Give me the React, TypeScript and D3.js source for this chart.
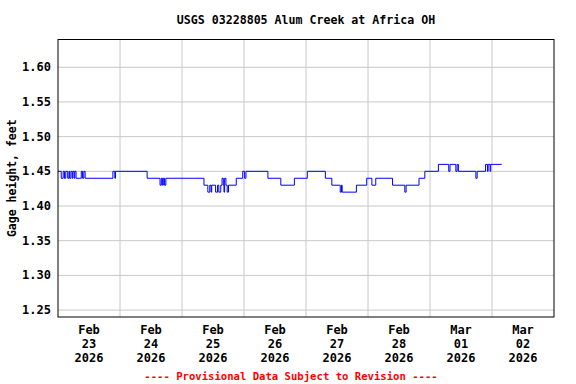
import * as d3 from 'd3'

// gage height readings (feet), stored as change points of the step series
const changeTimes = [
  '2026-02-23 00:00', '2026-02-23 01:15', '2026-02-23 02:00', '2026-02-23 02:30',
  '2026-02-23 03:00', '2026-02-23 03:45', '2026-02-23 04:15', '2026-02-23 04:30',
  '2026-02-23 05:00', '2026-02-23 05:30', '2026-02-23 05:45', '2026-02-23 06:15',
  '2026-02-23 06:30', '2026-02-23 07:00', '2026-02-23 09:00', '2026-02-23 09:30',
  '2026-02-23 10:00', '2026-02-23 10:30', '2026-02-23 21:15', '2026-02-23 22:00',
  '2026-02-23 22:15', '2026-02-24 10:30', '2026-02-24 15:30', '2026-02-24 16:00',
  '2026-02-24 16:30', '2026-02-24 16:45', '2026-02-24 17:15', '2026-02-24 17:45',
  '2026-02-25 08:30', '2026-02-25 10:00', '2026-02-25 10:45', '2026-02-25 11:15',
  '2026-02-25 11:30', '2026-02-25 13:00', '2026-02-25 13:45', '2026-02-25 14:15',
  '2026-02-25 15:00', '2026-02-25 15:30', '2026-02-25 16:00', '2026-02-25 16:15',
  '2026-02-25 16:30', '2026-02-25 17:00', '2026-02-25 17:30', '2026-02-25 18:00',
  '2026-02-25 21:00', '2026-02-25 23:30', '2026-02-26 00:15', '2026-02-26 00:45',
  '2026-02-26 09:15', '2026-02-26 14:15', '2026-02-26 19:30', '2026-02-27 00:30',
  '2026-02-27 07:30', '2026-02-27 10:00', '2026-02-27 13:15', '2026-02-27 13:45',
  '2026-02-27 14:00', '2026-02-27 19:30', '2026-02-27 23:30', '2026-02-28 01:30',
  '2026-02-28 03:00', '2026-02-28 09:30', '2026-02-28 14:15', '2026-02-28 14:45',
  '2026-02-28 19:45', '2026-02-28 22:00', '2026-03-01 03:15', '2026-03-01 07:15',
  '2026-03-01 07:45', '2026-03-01 10:00', '2026-03-01 10:30', '2026-03-01 11:00',
  '2026-03-01 17:45', '2026-03-01 18:15', '2026-03-01 21:30', '2026-03-01 22:15',
  '2026-03-01 22:30', '2026-03-01 23:15', '2026-03-01 23:30', '2026-03-02 03:45',
]
const changeValues = [
  1.45, 1.44, 1.45, 1.44,
  1.45, 1.44, 1.45, 1.44,
  1.45, 1.44, 1.45, 1.44,
  1.45, 1.44, 1.45, 1.44,
  1.45, 1.44, 1.45, 1.44,
  1.45, 1.44, 1.43, 1.44,
  1.43, 1.44, 1.43, 1.44,
  1.43, 1.42, 1.43, 1.42,
  1.43, 1.42, 1.43, 1.42,
  1.43, 1.44, 1.43, 1.42,
  1.44, 1.43, 1.42, 1.43,
  1.44, 1.45, 1.44, 1.45,
  1.44, 1.43, 1.44, 1.45,
  1.44, 1.43, 1.42, 1.43,
  1.42, 1.43, 1.44, 1.43,
  1.44, 1.43, 1.42, 1.43,
  1.44, 1.45, 1.46, 1.45,
  1.46, 1.45, 1.46, 1.45,
  1.44, 1.45, 1.46, 1.45,
  1.46, 1.45, 1.46, 1.46,
]

const dayLabels = [
  ['Feb', '23', '2026'], ['Feb', '24', '2026'], ['Feb', '25', '2026'], ['Feb', '26', '2026'],
  ['Feb', '27', '2026'], ['Feb', '28', '2026'], ['Mar', '01', '2026'], ['Mar', '02', '2026'],
]
const yTicks = [1.25, 1.3, 1.35, 1.4, 1.45, 1.5, 1.55, 1.6]

const parse = d3.timeParse('%Y-%m-%d %H:%M')
const font = '"DejaVu Sans Mono", monospace'

export default function App() {
  const width = 576
  const height = 384
  const left = 58
  const right = 554
  const top = 39.5
  const bottom = 317

  const start = parse('2026-02-23 00:00') as Date
  const end = parse('2026-03-03 00:00') as Date
  const x = d3.scaleTime().domain([start, end]).range([left, right])
  const y = d3.scaleLinear().domain([1.24, 1.64]).range([bottom, top])

  const points = changeTimes.map((t, i) => [parse(t) as Date, changeValues[i]] as [Date, number])
  const line = d3
    .line<[Date, number]>()
    .x((d) => x(d[0]))
    .y((d) => y(d[1]))
    .curve(d3.curveStepAfter)

  const days = d3.timeDay.range(start, end)

  return (
    <svg width={width} height={height} style={{ position: 'absolute', left: 0, top: 0 }}>
      <rect width={width} height={height} fill="white" />
      <text x={306} y={24} textAnchor="middle" fontFamily={font} fontWeight="bold" fontSize={11.6}>
        USGS 03228805 Alum Creek at Africa OH
      </text>

      {/* grid */}
      {yTicks.map((v) => (
        <line key={'h' + v} x1={left} x2={right} y1={y(v)} y2={y(v)} stroke="#c8c8c8" />
      ))}
      {days.slice(1).map((d) => (
        <line key={'v' + d.getTime()} x1={x(d)} x2={x(d)} y1={top} y2={bottom} stroke="#c8c8c8" />
      ))}

      <path d={line(points) ?? ''} fill="none" stroke="#0000ff" strokeWidth={1} />

      <rect x={left} y={top} width={right - left} height={bottom - top} fill="none" stroke="black" />

      {yTicks.map((v) => (
        <text key={'yl' + v} x={51} y={y(v) + 4} textAnchor="end" fontFamily={font} fontWeight="bold" fontSize={12}>
          {v.toFixed(2)}
        </text>
      ))}
      <text
        transform={`translate(16,${(top + bottom) / 2}) rotate(-90)`}
        textAnchor="middle"
        fontFamily={font}
        fontWeight="bold"
        fontSize={11.5}
      >
        Gage height, feet
      </text>

      {days.map((d, i) => {
        const cx = x(d3.timeHour.offset(d, 12))
        return (
          <g key={'xl' + i} fontFamily={font} fontWeight="bold" fontSize={12} textAnchor="middle">
            {dayLabels[i].map((s, j) => (
              <text key={j} x={cx} y={334 + j * 14}>
                {s}
              </text>
            ))}
          </g>
        )
      })}

      <text x={291} y={380} textAnchor="middle" fontFamily={font} fontWeight="bold" fontSize={10.6} fill="#ff0000">
        ---- Provisional Data Subject to Revision ----
      </text>
    </svg>
  )
}
